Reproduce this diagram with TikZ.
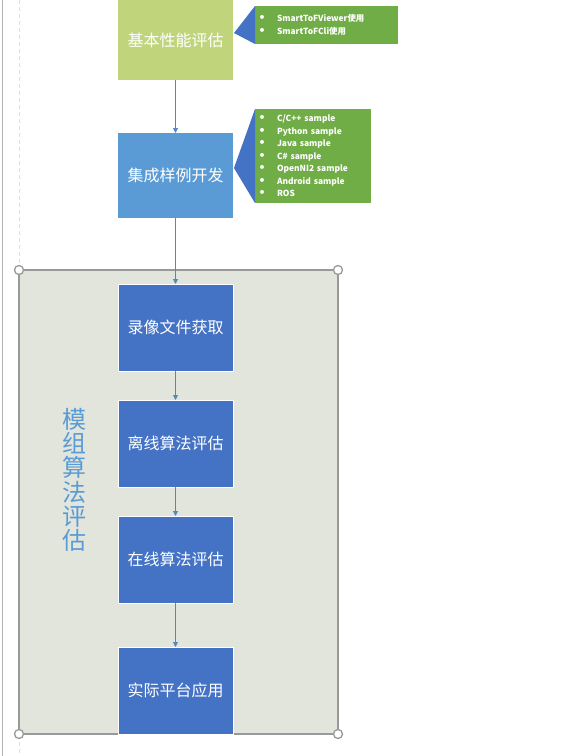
\documentclass[tikz,border=0pt]{standalone}
\usepackage{fontspec}
\setmainfont{Noto Sans CJK SC}
\newfontfamily\dotfont{DejaVu Sans}
\usetikzlibrary{arrows.meta,positioning}

\definecolor{basegreen}{HTML}{C0D57B}
\definecolor{sampleblue}{HTML}{5B9BD5}
\definecolor{stepblue}{HTML}{4472C4}
\definecolor{notegreen}{HTML}{70AD47}
\definecolor{stagefill}{HTML}{E2E5DB}
\definecolor{stageline}{HTML}{999999}
\definecolor{flowblue}{HTML}{5088C8}

\tikzset{
  stepbox/.style={minimum width=115pt, minimum height=87pt, inner sep=0pt, outer sep=0pt,
    text=white, font=\fontsize{16}{19}\selectfont},
  notebox/.style={fill=notegreen, inner sep=0pt, outer sep=0pt, text=white, align=left,
    font=\fontsize{8.4}{12.5}\selectfont\bfseries},
  flow/.style={flowblue, line width=0.9pt, -{Triangle[length=5pt,width=5pt]}},
  handle/.style={circle, draw=stageline, fill=white, line width=1.3pt, minimum size=9pt, inner sep=0pt}
}
\newcommand{\itm}[1]{\makebox[22pt][l]{\hspace{3.5pt}{\dotfont\fontsize{11}{12.5}\selectfont •}}#1}

\begin{document}
\begin{tikzpicture}[x=1pt, y=-1pt]
    \useasboundingbox (0,0) rectangle (567,756);

    % page margins
    \draw[gray!60, line width=1pt] (2,0) -- (2,756);
    \draw[gray!25, line width=0.8pt, dash pattern=on 4pt off 3pt] (19,0) -- (19,756);

    % stage frame
    \node[fill=stagefill, draw=stageline, line width=1.3pt, minimum width=319pt, minimum height=464pt,
      inner sep=0pt, outer sep=0pt] (stage) at (178.5,502) {};
    \foreach \c in {north west, north east, south west, south east}
        \node[handle] at (stage.\c) {};
    \node[sampleblue, align=center, font=\fontsize{24}{24.3}\selectfont] (stagename) at (74,480)
      {模\\组\\算\\法\\评\\估};

    % steps
    \node[stepbox, fill=basegreen, minimum height=80pt] (basic) at (175.5,40) {基本性能评估};
    \node[stepbox, fill=sampleblue, minimum height=85pt, below=53pt of basic] (sample) {集成样例开发};
    \node[stepbox, fill=stepblue, draw=white, below=66pt of sample] (record) {录像文件获取};
    \node[stepbox, fill=stepblue, draw=white, below=29pt of record] (offline) {离线算法评估};
    \node[stepbox, fill=stepblue, draw=white, below=29pt of offline] (online) {在线算法评估};
    \node[stepbox, fill=stepblue, draw=white, below=44pt of online] (deploy) {实际平台应用};

    % notes
    \node[notebox, minimum width=143pt, minimum height=38pt, text width=143pt,
      right=22pt of basic, yshift=15pt] (toolnote)
      {\itm{SmartToFViewer使用}\\\itm{SmartToFCli使用}};
    \coordinate (tooltip) at (234,33);
    \fill[stepblue] (toolnote.north west) -- (tooltip) -- (toolnote.south west) -- cycle;

    \node[notebox, minimum width=116pt, minimum height=94pt, text width=116pt,
      right=22pt of sample, yshift=19.5pt] (samplenote)
      {\itm{C/C++ sample}\\\itm{Python sample}\\\itm{Java sample}\\\itm{C\# sample}\\
       \itm{OpenNI2 sample}\\\itm{Android sample}\\\itm{ROS}};
    \coordinate (sampletip) at (234,168);
    \fill[stepblue] (samplenote.north west) -- (sampletip) -- (samplenote.south west) -- cycle;

    % flow
    \draw[flow] (basic) -- (sample);
    \draw[flow] (sample) -- (record);
    \draw[flow] (record) -- (offline);
    \draw[flow] (offline) -- (online);
    \draw[flow] (online) -- (deploy);
\end{tikzpicture}
\end{document}
